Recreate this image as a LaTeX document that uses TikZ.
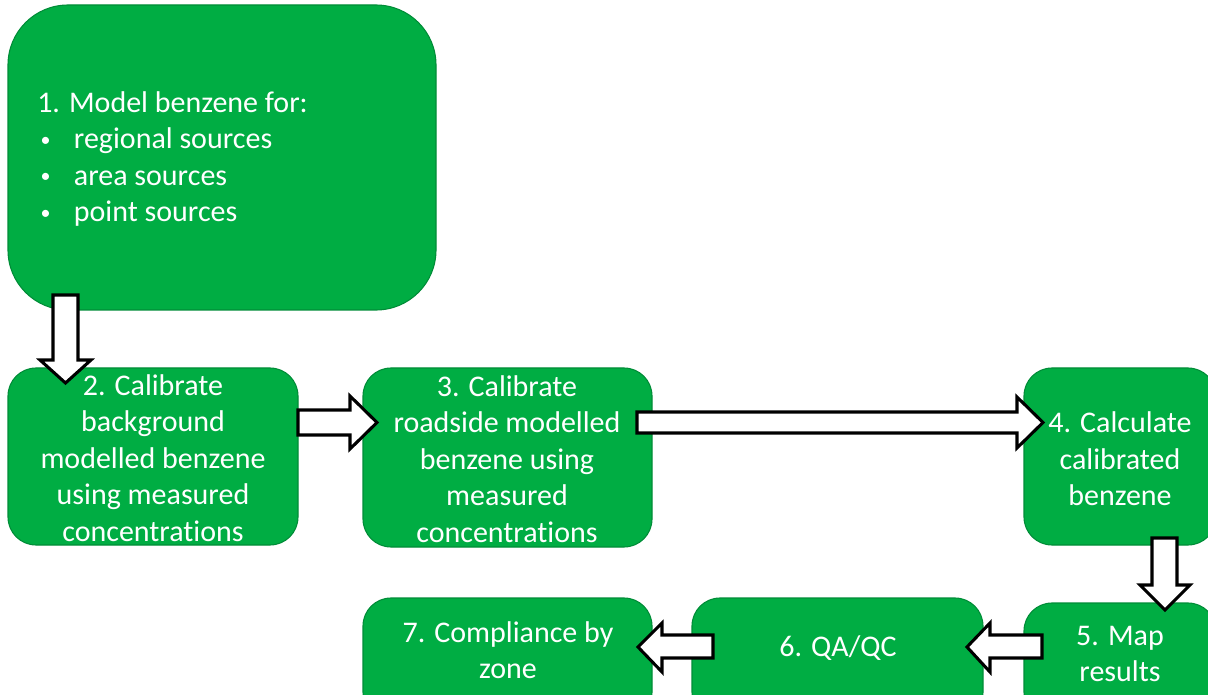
\documentclass[tikz,border=0pt]{standalone}
\usepackage{fontspec}
\setmainfont[Ligatures=NoCommon]{Carlito}
\usetikzlibrary{fit}
\definecolor{boxgreen}{RGB}{0,173,67}
\definecolor{boxedge}{RGB}{0,140,55}
\newcommand{\smallbul}{\makebox[27.5pt][l]{\hspace{2.5pt}\raisebox{2pt}{\fontsize{15}{15}\selectfont •}}}
\tikzset{
  stepbox/.style={draw=boxedge, line width=0.8pt, fill=boxgreen, inner sep=0pt, rounded corners=21pt},
  bigbox/.style={stepbox, rounded corners=45pt},
  lbl/.style={text=white, inner sep=0pt, align=center, font=\fontsize{22.5}{27.4}\selectfont},
  blockarrow/.style={draw=black, fill=white, line width=2.3pt, line join=miter}
}
\begin{document}
\begin{tikzpicture}[x=0.75pt,y=-0.75pt]
\useasboundingbox (0,0) rectangle (1208,695);
\clip (0,0) rectangle (1208,695);
% boxes
\node[bigbox, fit={(8,5)(436,310)}] (b1) {};
\node[stepbox, fit={(8,368)(298,545)}] (b2) {};
\node[stepbox, fit={(363,368)(652,547)}] (b3) {};
\node[stepbox, fit={(1024,368)(1216,545)}] (b4) {};
\node[stepbox, fit={(1024,603)(1216,720)}] (b5) {};
\node[stepbox, fit={(692,598)(983,720)}] (b6) {};
\node[stepbox, fit={(363,598)(652,720)}] (b7) {};
% texts
\node[lbl, align=left, anchor=west] (t1) at (37,159) {1. Model benzene for:\\
\smallbul regional sources\\
\smallbul area sources\\
\smallbul point sources};
\node[lbl] (t2) at (153,458) {2. Calibrate\\background\\modelled benzene\\using measured\\concentrations};
\node[lbl] (t3) at (507,459) {3. Calibrate\\roadside modelled\\benzene using\\measured\\concentrations};
\node[lbl] (t4) at (1120,459) {4. Calculate\\calibrated\\benzene};
\node[lbl] (t5) at (1120,654) {5. Map\\results};
\node[lbl] (t6) at (838,648) {6. QA/QC};
\node[lbl] (t7) at (508,650) {7. Compliance by\\zone};
% block arrows
\draw[blockarrow] (53,295) -- (78,295) -- (78,360) -- (91,360) -- (65.5,383) -- (40,360) -- (53,360) -- cycle;
\draw[blockarrow] (298,410) -- (350,410) -- (350,396) -- (377,422.5) -- (350,449) -- (350,435) -- (298,435) -- cycle;
\draw[blockarrow] (637,412) -- (1017,412) -- (1017,397) -- (1043,422.5) -- (1017,448) -- (1017,433) -- (637,433) -- cycle;
\draw[blockarrow] (1152,538) -- (1177,538) -- (1177,585) -- (1190,585) -- (1165,610) -- (1140,585) -- (1152,585) -- cycle;
\draw[blockarrow] (1042,635) -- (990,635) -- (990,623) -- (967,647) -- (990,672) -- (990,658) -- (1042,658) -- cycle;
\draw[blockarrow] (713,635) -- (662,635) -- (662,623) -- (638,647) -- (662,672) -- (662,658) -- (713,658) -- cycle;
\end{tikzpicture}
\end{document}
